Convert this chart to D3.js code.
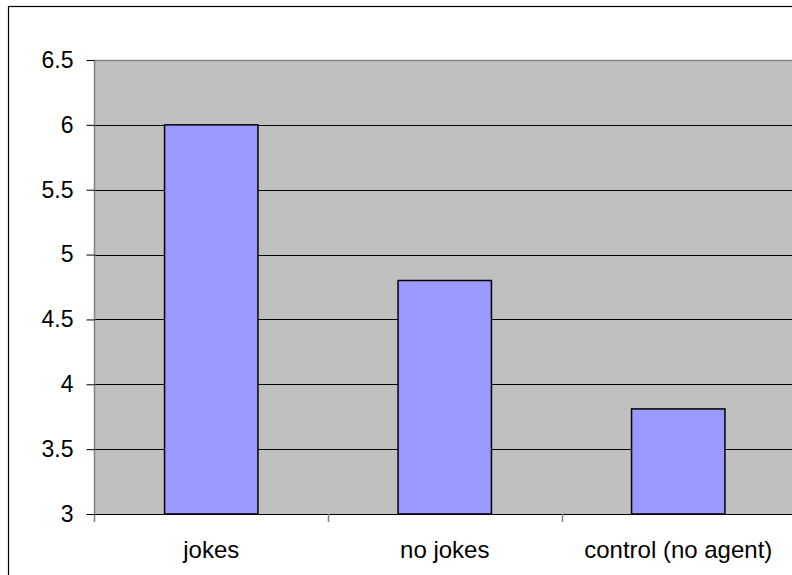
<!DOCTYPE html>
<html>
<head>
<meta charset="utf-8">
<script src="https://cdn.jsdelivr.net/npm/d3@7"></script>
<style>
  html, body { margin: 0; padding: 0; background: #fff; }
  svg { display: block; }
  text { font-family: "Liberation Sans", Arial, sans-serif; fill: #000; }
</style>
</head>
<body>
<script>
// Mean ratings per condition
const categories = ["jokes", "no jokes", "control (no agent)"];
const values = [6.0, 4.8, 3.81];
const yTicks = [3, 3.5, 4, 4.5, 5, 5.5, 6, 6.5];

const W = 792, H = 575;
const plot = { left: 94.5, top: 60, right: 795, bottom: 514 };

const svg = d3.select("body").append("svg")
  .attr("width", W).attr("height", H);

// Outer chart frame
svg.append("rect")
  .attr("x", 8.5).attr("y", 6.5)
  .attr("width", 800).attr("height", 600)
  .attr("fill", "#fff").attr("stroke", "#000").attr("stroke-width", 1.2);

const x = d3.scaleBand()
  .domain(categories)
  .range([plot.left, plot.right])
  .paddingInner(0.6).paddingOuter(0.3);

const xCat = d3.scaleBand()
  .domain(categories)
  .range([plot.left, plot.right]);

const y = d3.scaleLinear()
  .domain([3, 6.5])
  .range([plot.bottom, plot.top]);

// Plot area background
svg.append("rect")
  .attr("x", plot.left).attr("y", plot.top)
  .attr("width", plot.right - plot.left)
  .attr("height", plot.bottom - plot.top)
  .attr("fill", "#c0c0c0");

// Horizontal gridlines
svg.append("g")
  .selectAll("line")
  .data(yTicks.filter(t => t > 3 && t < 6.5))
  .join("line")
  .attr("x1", plot.left).attr("x2", plot.right)
  .attr("y1", d => Math.round(y(d)) + 0.5).attr("y2", d => Math.round(y(d)) + 0.5)
  .attr("stroke", "#000").attr("stroke-width", 1);

// Plot area top border
svg.append("line")
  .attr("x1", plot.left).attr("x2", plot.right)
  .attr("y1", plot.top + 0.5).attr("y2", plot.top + 0.5)
  .attr("stroke", "#808080").attr("stroke-width", 1.5);

// Bars
svg.append("g")
  .selectAll("rect")
  .data(categories.map((c, i) => ({ c, v: values[i] })))
  .join("rect")
  .attr("x", d => x(d.c))
  .attr("y", d => y(d.v))
  .attr("width", x.bandwidth())
  .attr("height", d => y(3) - y(d.v))
  .attr("fill", "#9999ff")
  .attr("stroke", "#000")
  .attr("stroke-width", 1.5);

// Y axis
const yAxis = svg.append("g")
  .attr("transform", `translate(${plot.left},0)`)
  .call(d3.axisLeft(y).tickValues(yTicks).tickSize(8).tickPadding(13)
    .tickFormat(d3.format("")));
yAxis.select(".domain").attr("stroke", "#808080").attr("stroke-width", 1.5)
  .attr("d", `M0,${plot.top}V${plot.bottom + 8}`);
yAxis.selectAll(".tick line").attr("stroke", "#000");
yAxis.selectAll(".tick text")
  .style("font-size", "23px").attr("font-family", null)
  .attr("dy", "0.32em");

// X axis with ticks between categories
const xAxis = svg.append("g")
  .attr("transform", `translate(0,${plot.bottom})`);
xAxis.append("line")
  .attr("x1", plot.left).attr("x2", plot.right)
  .attr("y1", 0.5).attr("y2", 0.5)
  .attr("stroke", "#000").attr("stroke-width", 1);
xAxis.selectAll("line.sep")
  .data(categories.slice(1))
  .join("line")
  .attr("class", "sep")
  .attr("x1", d => Math.round(xCat(d)) + 0.5).attr("x2", d => Math.round(xCat(d)) + 0.5)
  .attr("y1", 0).attr("y2", 8)
  .attr("stroke", "#808080").attr("stroke-width", 1.5);
xAxis.selectAll("text")
  .data(categories)
  .join("text")
  .attr("x", d => xCat(d) + xCat.bandwidth() / 2)
  .attr("y", 44)
  .attr("text-anchor", "middle")
  .style("font-size", "24px")
  .text(d => d);
</script>
</body>
</html>
